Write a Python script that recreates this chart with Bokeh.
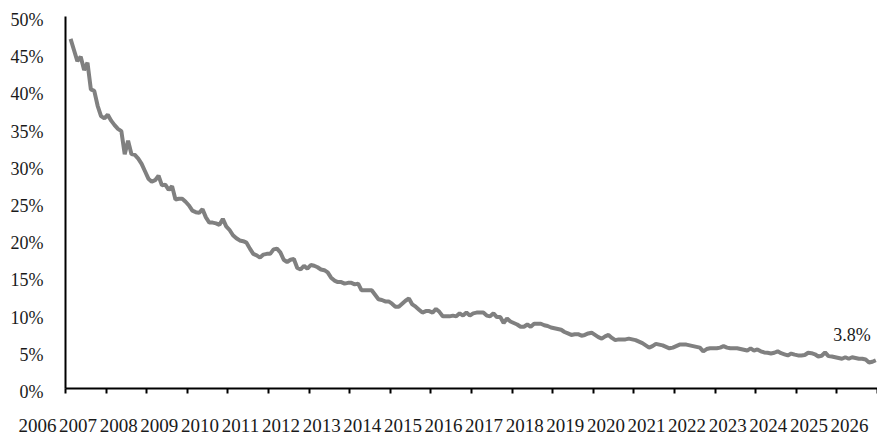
import pandas as pd
from bokeh.plotting import figure
from bokeh.models import Range1d, FixedTicker, PrintfTickFormatter, Label, LinearAxis
from bokeh.embed import file_html
from bokeh.resources import INLINE

# ---- data (monthly, Feb 2006 .. Dec 2025), percent ----
start_month = "2006-02"
end_month = "2025-12"
rate = [
    # 2006 (Feb-Dec)
    47.0, 45.5, 44.0, 44.6, 42.8, 43.8, 40.2, 40.0, 38.0, 36.6, 36.3,
    # 2007
    36.8, 36.0, 35.4, 34.9, 34.6, 31.5, 33.3, 31.5, 31.4, 30.9, 30.2, 29.2,
    # 2008
    28.2, 27.8, 28.0, 28.6, 27.3, 27.4, 26.7, 27.2, 25.4, 25.5, 25.5, 25.1,
    # 2009
    24.6, 23.9, 23.7, 23.6, 24.1, 23.0, 22.3, 22.3, 22.2, 22.0, 22.8, 21.8,
    # 2010
    21.3, 20.6, 20.2, 19.9, 19.8, 19.6, 18.8, 18.1, 17.9, 17.6, 18.0, 18.1,
    # 2011
    18.1, 18.7, 18.8, 18.3, 17.3, 17.0, 17.3, 17.4, 16.2, 16.0, 16.5, 16.1,
    # 2012
    16.6, 16.5, 16.3, 16.0, 15.9, 15.6, 14.9, 14.5, 14.3, 14.3, 14.1, 14.2,
    # 2013
    14.2, 14.0, 14.1, 13.2, 13.2, 13.2, 13.2, 12.6, 12.0, 11.9, 11.7, 11.7,
    # 2014
    11.4, 11.0, 11.0, 11.4, 11.8, 12.1, 11.3, 11.0, 10.6, 10.2, 10.4, 10.4,
    # 2015
    10.2, 10.7, 10.3, 9.7, 9.7, 9.7, 9.8, 9.7, 10.1, 9.8, 10.2, 9.8,
    # 2016
    10.1, 10.2, 10.2, 10.2, 9.8, 9.7, 10.1, 9.6, 9.6, 8.8, 9.4, 9.0,
    # 2017
    8.8, 8.6, 8.3, 8.3, 8.6, 8.3, 8.7, 8.7, 8.7, 8.5, 8.4, 8.2,
    # 2018
    8.1, 8.0, 7.9, 7.6, 7.4, 7.2, 7.3, 7.3, 7.1, 7.2, 7.4, 7.5,
    # 2019
    7.2, 6.9, 6.7, 7.0, 7.2, 6.8, 6.5, 6.6, 6.6, 6.6, 6.7, 6.6,
    # 2020
    6.5, 6.3, 6.1, 5.8, 5.5, 5.7, 6.0, 5.9, 5.8, 5.6, 5.4, 5.5,
    # 2021
    5.7, 5.9, 5.9, 5.9, 5.8, 5.7, 5.6, 5.5, 5.0, 5.3, 5.4, 5.4,
    # 2022
    5.4, 5.5, 5.7, 5.5, 5.4, 5.4, 5.4, 5.3, 5.2, 5.1, 5.4, 5.1,
    # 2023
    5.25, 5.0, 4.85, 4.8, 4.7, 4.8, 5.0, 4.75, 4.6, 4.45, 4.7, 4.55,
    # 2024
    4.45, 4.45, 4.5, 4.8, 4.75, 4.6, 4.3, 4.4, 4.85, 4.35, 4.3, 4.2,
    # 2025
    4.1, 4.0, 4.2, 4.0, 4.2, 4.1, 4.0, 4.0, 3.9, 3.5, 3.6, 3.8,
]
year_ticks = list(range(2006, 2027))
y_ticks = [0, 5, 10, 15, 20, 25, 30, 35, 40, 45, 50]
end_label = "3.8%"

dates = pd.period_range(start_month, end_month, freq="M")
xs = [d.year + (d.month - 0.5) / 12.0 for d in dates]

FONT = "Liberation Serif"
TXT = "#1a1a1a"

# ---- layout geometry (pixels) ----
W, H = 877, 434
left_px, right_px = 65, 877      # x of first / last year tick
top_px, bottom_px = 16, 388      # y of 50% / 0%
px_per_year = (right_px - left_px) / (year_ticks[-1] - year_ticks[0])
px_per_pct = (bottom_px - top_px) / (y_ticks[-1] - y_ticks[0])

x0 = year_ticks[0] - left_px / px_per_year
x1 = year_ticks[-1] + (W - right_px) / px_per_year
y1 = y_ticks[-1] + top_px / px_per_pct
y0 = y_ticks[0] - (H - bottom_px) / px_per_pct

label_shift = 28 / px_per_year     # year labels sit left of their ticks
ylabel_shift = 3.5 / px_per_pct    # y labels sit slightly below their ticks

p = figure(
    width=W, height=H,
    output_backend="svg", toolbar_location=None,
    x_range=Range1d(x0, x1), y_range=Range1d(y0, y1),
    x_axis_location=None, y_axis_location=None,
    min_border=0,
)
p.extra_x_ranges = {"xlab": Range1d(x0 + label_shift, x1 + label_shift)}
p.extra_y_ranges = {"ylab": Range1d(y0 + ylabel_shift, y1 + ylabel_shift)}
p.outline_line_color = None
p.xgrid.visible = False
p.ygrid.visible = False
p.background_fill_color = "white"
p.border_fill_color = "white"

p.line(xs, rate, line_color="#808080", line_width=4)

# y axis line
ya = LinearAxis(fixed_location=year_ticks[0], bounds=(y_ticks[0], y_ticks[-1]),
                ticker=FixedTicker(ticks=y_ticks))
ya.major_tick_out = 0
ya.major_tick_in = 0
ya.minor_tick_out = 0
ya.minor_tick_in = 0
ya.axis_line_width = 2
ya.axis_line_color = "black"
ya.major_label_overrides = {t: "" for t in y_ticks}
p.add_layout(ya, "left")

# y tick labels
yl = LinearAxis(fixed_location=year_ticks[0], y_range_name="ylab",
                ticker=FixedTicker(ticks=y_ticks),
                formatter=PrintfTickFormatter(format="%d%%"))
yl.axis_line_color = None
yl.major_tick_out = 0
yl.major_tick_in = 0
yl.minor_tick_out = 0
yl.minor_tick_in = 0
yl.major_label_standoff = 22
yl.major_label_text_font = FONT
yl.major_label_text_font_size = "18px"
yl.major_label_text_color = TXT
p.add_layout(yl, "left")

# x axis line + ticks
xa = LinearAxis(fixed_location=y_ticks[0], bounds=(year_ticks[0], year_ticks[-1]),
                ticker=FixedTicker(ticks=year_ticks))
xa.major_label_overrides = {t: "" for t in year_ticks}
xa.major_tick_out = 5
xa.major_tick_in = 0
xa.minor_tick_out = 0
xa.minor_tick_in = 0
xa.major_tick_line_width = 2
xa.major_tick_line_color = "black"
xa.axis_line_width = 2
xa.axis_line_color = "black"
p.add_layout(xa, "below")

# year labels (shifted left of their ticks, as in the original)
xl = LinearAxis(fixed_location=y_ticks[0], x_range_name="xlab",
                ticker=FixedTicker(ticks=year_ticks))
xl.axis_line_color = None
xl.major_tick_out = 0
xl.major_tick_in = 0
xl.minor_tick_out = 0
xl.minor_tick_in = 0
xl.major_label_standoff = 30
xl.major_label_text_font = FONT
xl.major_label_text_font_size = "19px"
xl.major_label_text_color = TXT
p.add_layout(xl, "below")

p.add_layout(Label(
    x=xs[-1], y=rate[-1], text=end_label, x_offset=-5, y_offset=25,
    text_align="right", text_baseline="middle",
    text_font=FONT, text_font_size="18px", text_color=TXT,
))

open("out.html", "w").write(file_html(p, INLINE))
